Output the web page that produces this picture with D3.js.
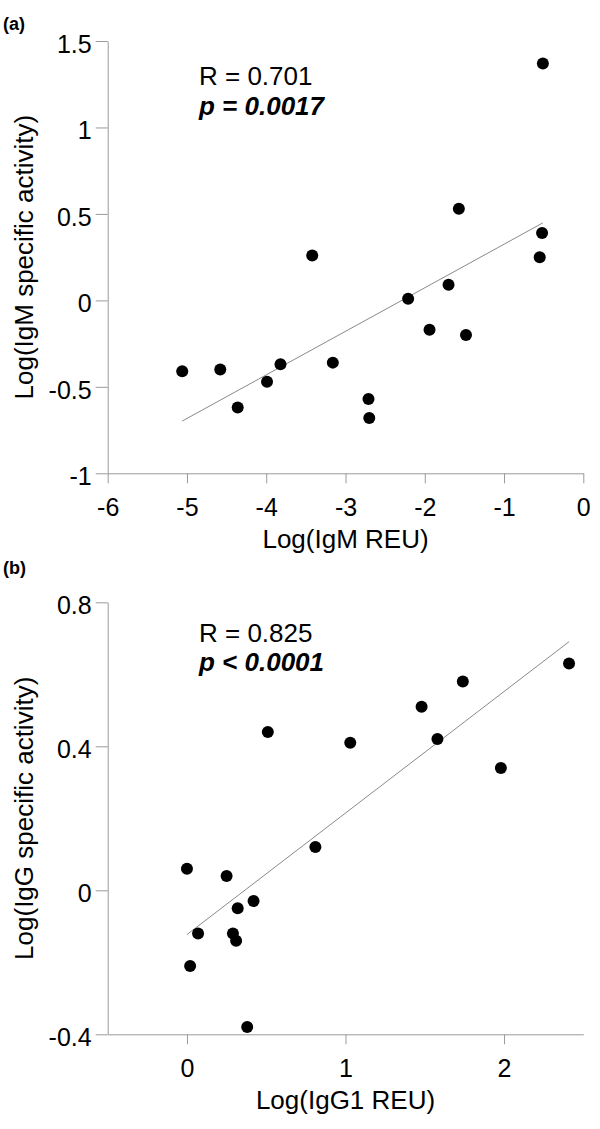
<!DOCTYPE html>
<html>
    <head>
        <meta charset="utf-8">
        <style>
        html, body {
            margin: 0px;
            background: #fff;
        }
        svg {
            display: block;
            font-family: "Liberation Sans", Arial, sans-serif;
        }
        .axis path,
        .axis line {
          fill: none;
          stroke: #9a9a9a;
          stroke-width: 1;
        }
        .axis text {
          font-size: 25px;
          fill: #000;
        }
        </style>
    </head>
    <body>
        <svg class="chart" width="600" height="1129"></svg>
        <script src="https://cdn.jsdelivr.net/npm/d3@7"></script>
        <script>
            // panel (a): IgM
            var igmReu      = [-0.51, -1.57, -0.52, -0.55, -3.42, -1.70, -2.21, -1.94, -1.48, -5.06, -4.58, -3.82, -3.99, -3.16, -4.36, -2.71, -2.70];
            var igmActivity = [ 1.37,  0.53,  0.39,  0.25,  0.26,  0.09,  0.01, -0.17, -0.20, -0.41, -0.40, -0.37, -0.47, -0.36, -0.62, -0.57, -0.68];
            var xTicksA = [-6, -5, -4, -3, -2, -1, 0];
            var yTicksA = [-1, -0.5, 0, 0.5, 1, 1.5];
            var statsA = ["R = 0.701", "p = 0.0017"];

            // panel (b): IgG
            var igg1Reu     = [2.41, 1.74, 1.48, 0.51, 1.03, 1.58, 1.98, 0.81, 0.00, 0.25, 0.42, 0.32, 0.07, 0.29, 0.31, 0.02, 0.38];
            var iggActivity = [0.63, 0.58, 0.51, 0.44, 0.41, 0.42, 0.34, 0.12, 0.06, 0.04, -0.03, -0.05, -0.12, -0.12, -0.14, -0.21, -0.38];
            var xTicksB = [0, 1, 2];
            var yTicksB = [-0.4, 0, 0.4, 0.8];
            var statsB = ["R = 0.825", "p < 0.0001"];

            var panels = [
                {label: "(a)", labelY: 30, xs: igmReu, ys: igmActivity, xDomain: [-6, 0], yDomain: [-1, 1.5],
                 xTicks: xTicksA, yTicks: yTicksA, xTitle: "Log(IgM REU)", yTitle: "Log(IgM specific activity)",
                 stats: statsA, top: 41, bottom: 473.3, statsY: [85, 115]},
                {label: "(b)", labelY: 574, xs: igg1Reu, ys: iggActivity, xDomain: [-0.5, 2.5], yDomain: [-0.4, 0.8],
                 xTicks: xTicksB, yTicks: yTicksB, xTitle: "Log(IgG1 REU)", yTitle: "Log(IgG specific activity)",
                 stats: statsB, top: 602.3, bottom: 1034.3, statsY: [641.5, 670.5]}
            ];

            var left = 107.7, right = 583.3;
            var svg = d3.select(".chart");

            function fit(xs, ys) {
                var mx = d3.mean(xs), my = d3.mean(ys);
                var sxy = d3.sum(xs, function(d, i) { return (d - mx) * (ys[i] - my); });
                var sxx = d3.sum(xs, function(d) { return (d - mx) * (d - mx); });
                var slope = sxy / sxx;
                return function(x) { return my + slope * (x - mx); };
            }

            panels.forEach(function(p) {
                var x = d3.scaleLinear().domain(p.xDomain).range([left, right]);
                var y = d3.scaleLinear().domain(p.yDomain).range([p.bottom, p.top]);

                svg.append("text")
                   .attr("x", 3).attr("y", p.labelY)
                   .style("font-size", "18px").style("font-weight", "bold")
                   .text(p.label);

                var yAxis = svg.append("g")
                   .attr("class", "axis")
                   .attr("transform", "translate(" + left + ",0)")
                   .call(d3.axisLeft(y).tickValues(p.yTicks).tickSize(12).tickPadding(4)
                         .tickSizeOuter(0).tickFormat(function(d) { return String(d); }));
                yAxis.selectAll("text").attr("dy", "0.46em");

                svg.append("g")
                   .attr("class", "axis")
                   .attr("transform", "translate(0," + p.bottom + ")")
                   .call(d3.axisBottom(x).tickValues(p.xTicks).tickSize(10).tickPadding(15)
                         .tickSizeOuter(0).tickFormat(function(d) { return String(d); }));

                svg.selectAll(".axis .domain").attr("stroke", "#9a9a9a");

                svg.append("text")
                   .attr("x", (left + right) / 2).attr("y", p.bottom + 75)
                   .attr("text-anchor", "middle")
                   .style("font-size", "26px")
                   .text(p.xTitle);

                svg.append("text")
                   .attr("transform", "translate(33," + (p.top + p.bottom) / 2 + ") rotate(-90)")
                   .attr("text-anchor", "middle")
                   .style("font-size", "26px")
                   .text(p.yTitle);

                // regression line
                var f = fit(p.xs, p.ys);
                var ext = d3.extent(p.xs);
                svg.append("line")
                   .attr("x1", x(ext[0])).attr("y1", y(f(ext[0])))
                   .attr("x2", x(ext[1])).attr("y2", y(f(ext[1])))
                   .attr("stroke", "#8a8a8a").attr("stroke-width", 1);

                svg.append("g").selectAll("circle")
                   .data(p.xs)
                   .enter().append("circle")
                   .attr("cx", function(d) { return x(d); })
                   .attr("cy", function(d, i) { return y(p.ys[i]); })
                   .attr("r", 6)
                   .attr("fill", "#000");

                svg.append("text")
                   .attr("x", 199).attr("y", p.statsY[0])
                   .style("font-size", "26px")
                   .text(p.stats[0]);
                svg.append("text")
                   .attr("x", 199).attr("y", p.statsY[1])
                   .style("font-size", "26px").style("font-weight", "bold").style("font-style", "italic")
                   .text(p.stats[1]);
            });
        </script>
    </body>
</html>
